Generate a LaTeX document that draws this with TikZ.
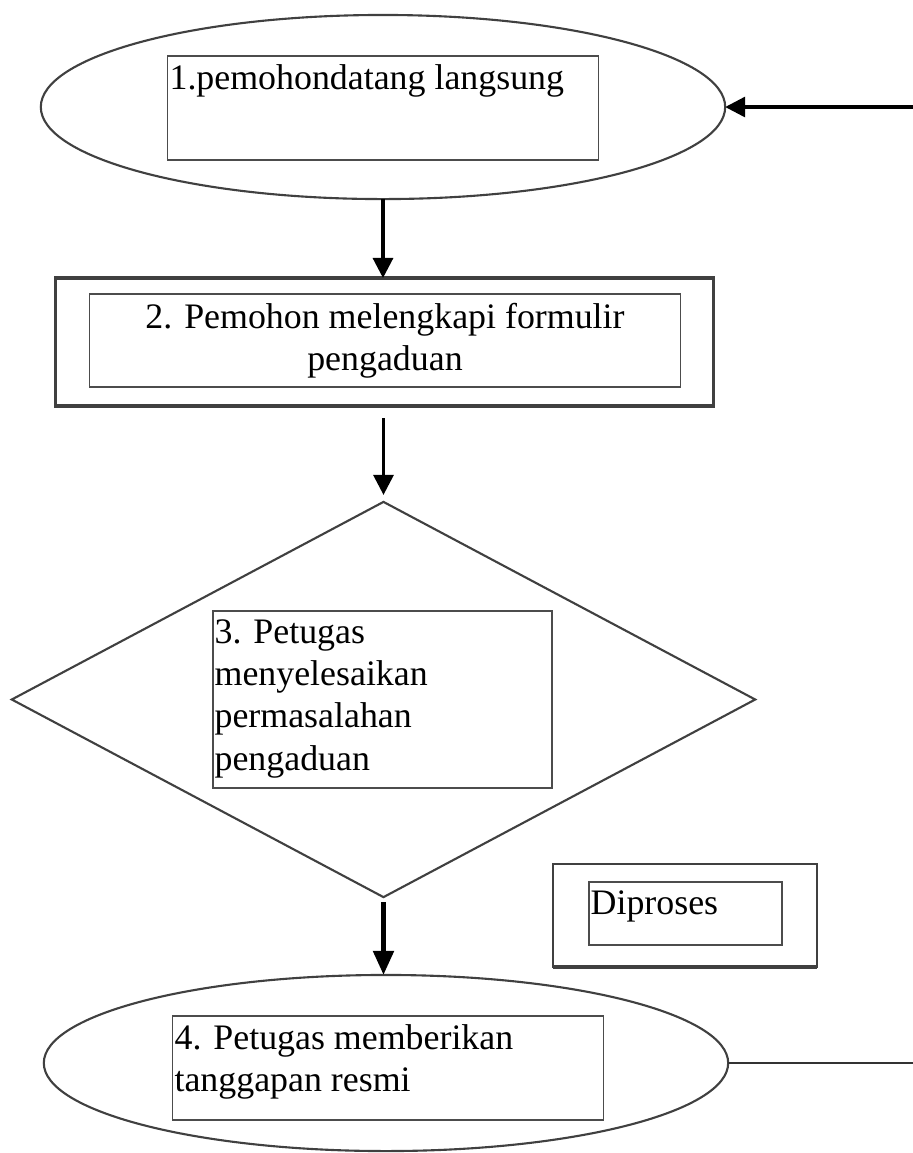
\documentclass[tikz,border=0pt]{standalone}
\usepackage{fontspec}
\setmainfont{Liberation Serif}
\usetikzlibrary{arrows.meta}
\usetikzlibrary{shapes.geometric}
\usetikzlibrary{positioning}

\begin{document}
\begin{tikzpicture}[
        x=0.01cm, y=-0.01cm,
        outline/.style={draw=black!75, line width=0.6pt, inner sep=0pt, outer sep=0pt},
        frame/.style={draw=black!70, line width=0.35pt, inner sep=0pt, outer sep=0pt},
        box text/.style={inner sep=0pt, align=left, font=\fontsize{10.2}{12}\selectfont},
        flow/.style={line width=0.9pt, -{Triangle[length=0.2cm, width=0.2cm]}},
        heavy flow/.style={line width=1.4pt, -{Triangle[length=0.24cm, width=0.2cm]}}
        ]
        \useasboundingbox (0,0) rectangle (913,1153);

        % free ends of the loop
        \coordinate (inR) at (913,107);
        \coordinate (outR) at (913,1063);

        % 1. start
        \node[outline, ellipse, minimum width=6.84cm, minimum height=1.84cm] (pemohon) at (383,107) {};
        \node[frame, minimum width=4.3cm, minimum height=1.04cm] (box1) at (383,108) {};
        \node[box text, below right=0.08cm and 0.01cm of box1.north west] (text1) {1.pemohondatang langsung};

        % 2. form
        \node[outline, line width=0.9pt, minimum width=6.57cm, minimum height=1.28cm] (formulir) at (384.5,342) {};
        \node[frame, minimum width=5.9cm, minimum height=0.93cm] (box2) at (385,340.5) {};
        \node[box text, align=center] (text2) at (box2.center) {2. Pemohon melengkapi formulir\\pengaduan};

        % 3. decision
        \node[outline, diamond, minimum width=7.43cm, minimum height=3.95cm] (petugas) at (383.5,699.5) {};
        \node[frame, minimum width=3.39cm, minimum height=1.77cm] (box3) at (382.5,699.5) {};
        \node[box text, below right=0.08cm and 0.01cm of box3.north west] (text3)
            {3. Petugas\\menyelesaikan\\permasalahan\\pengaduan};

        % side note
        \node[outline, line width=0.5pt, minimum width=2.64cm, minimum height=1.03cm] (proses) at (685,915.5) {};
        \draw[black!75, line width=1.3pt] (proses.south west) -- (proses.south east);
        \node[frame, minimum width=1.93cm, minimum height=0.63cm] (boxD) at (685.5,913.5) {};
        \node[box text, below right=0.08cm and 0.01cm of boxD.north west] (textD) {Diproses};

        % 4. answer
        \node[outline, ellipse, minimum width=6.84cm, minimum height=1.76cm] (tanggapan) at (386,1063) {};
        \node[frame, minimum width=4.3cm, minimum height=1.04cm] (box4) at (388,1068) {};
        \node[box text, below right=0.08cm and 0.01cm of box4.north west] (text4)
            {4. Petugas memberikan\\tanggapan resmi};

        % connectors
        \draw[flow] (inR) -- (pemohon.east);
        \draw[flow] (pemohon.south) -- (pemohon.south |- formulir.north);
        \draw[flow, shorten <=0.12cm, shorten >=0.07cm] (petugas.north |- formulir.south) -- (petugas.north);
        \draw[heavy flow, shorten <=0.05cm] (petugas.south) -- (petugas.south |- tanggapan.north);
        \draw[black!80, line width=0.7pt] (tanggapan.east) -- (outR);
\end{tikzpicture}
\end{document}
